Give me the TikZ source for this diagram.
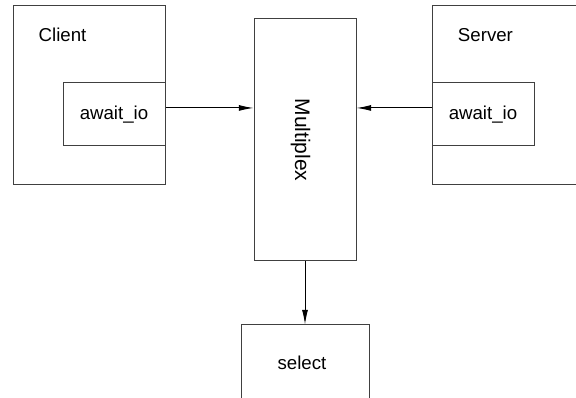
\documentclass[tikz,border=0pt]{standalone}
\usepackage{fontspec}
\setmainfont{Liberation Sans}
\usetikzlibrary{arrows.meta}
\tikzstyle{box}=[draw=black!75,line width=0.75pt,rectangle,inner sep=0pt,font=\fontsize{14}{17}\selectfont]
\tikzstyle{word}=[inner sep=0pt,font=\fontsize{14}{17}\selectfont]
\tikzstyle{arrow} = [draw,line width=0.75pt,-{Latex[length=11pt,width=4.5pt]}]

\begin{document}
\begin{tikzpicture}[x=1pt,y=-1pt]
    \path[use as bounding box] (0,0) rectangle (432,298.5);
    \clip (0,0) rectangle (432,298.5);
    % First the two outer boxes and their titles
    \foreach \pos/\name in {{(66.75,71.625)/client}, {(381,71.625)/server}}
        \node[box,minimum width=114pt,minimum height=134.25pt] (\name) at \pos {};
    \node[word] (clienttxt) at (46.9,26.25) {Client};
    \node[word] (servertxt) at (364.1,26.25) {Server};
    % the await_io boxes inside them
    \foreach \pos/\name in {{(85.5,85.875)/cawait}, {(362.25,85.875)/sawait}}
        \node[box,minimum width=76.5pt,minimum height=47.25pt] (\name) at \pos {await\_io};
    % Multiplex and select
    \node[box,minimum width=76.5pt,minimum height=181.5pt] (mux) at (228.75,105) {};
    \node[word,rotate=-90,font=\fontsize{15.75}{19}\selectfont] (muxtxt) at (225.4,105) {Multiplex};
    \node[box,minimum width=96pt,minimum height=75pt] (select) at (228.75,281.25) {};
    \node[word] (selecttxt) at (226.5,272.25) {select};

    % Connect the boxes
    \coordinate (cio) at ([yshift=4.9pt]cawait.east);
    \coordinate (sio) at ([yshift=4.9pt]sawait.west);
    \path[arrow] (cio) -- (cio -| mux.west);
    \path[arrow] (sio) -- (sio -| mux.east);
    \path[arrow] (mux.south) -- (select.north);
\end{tikzpicture}
\end{document}
